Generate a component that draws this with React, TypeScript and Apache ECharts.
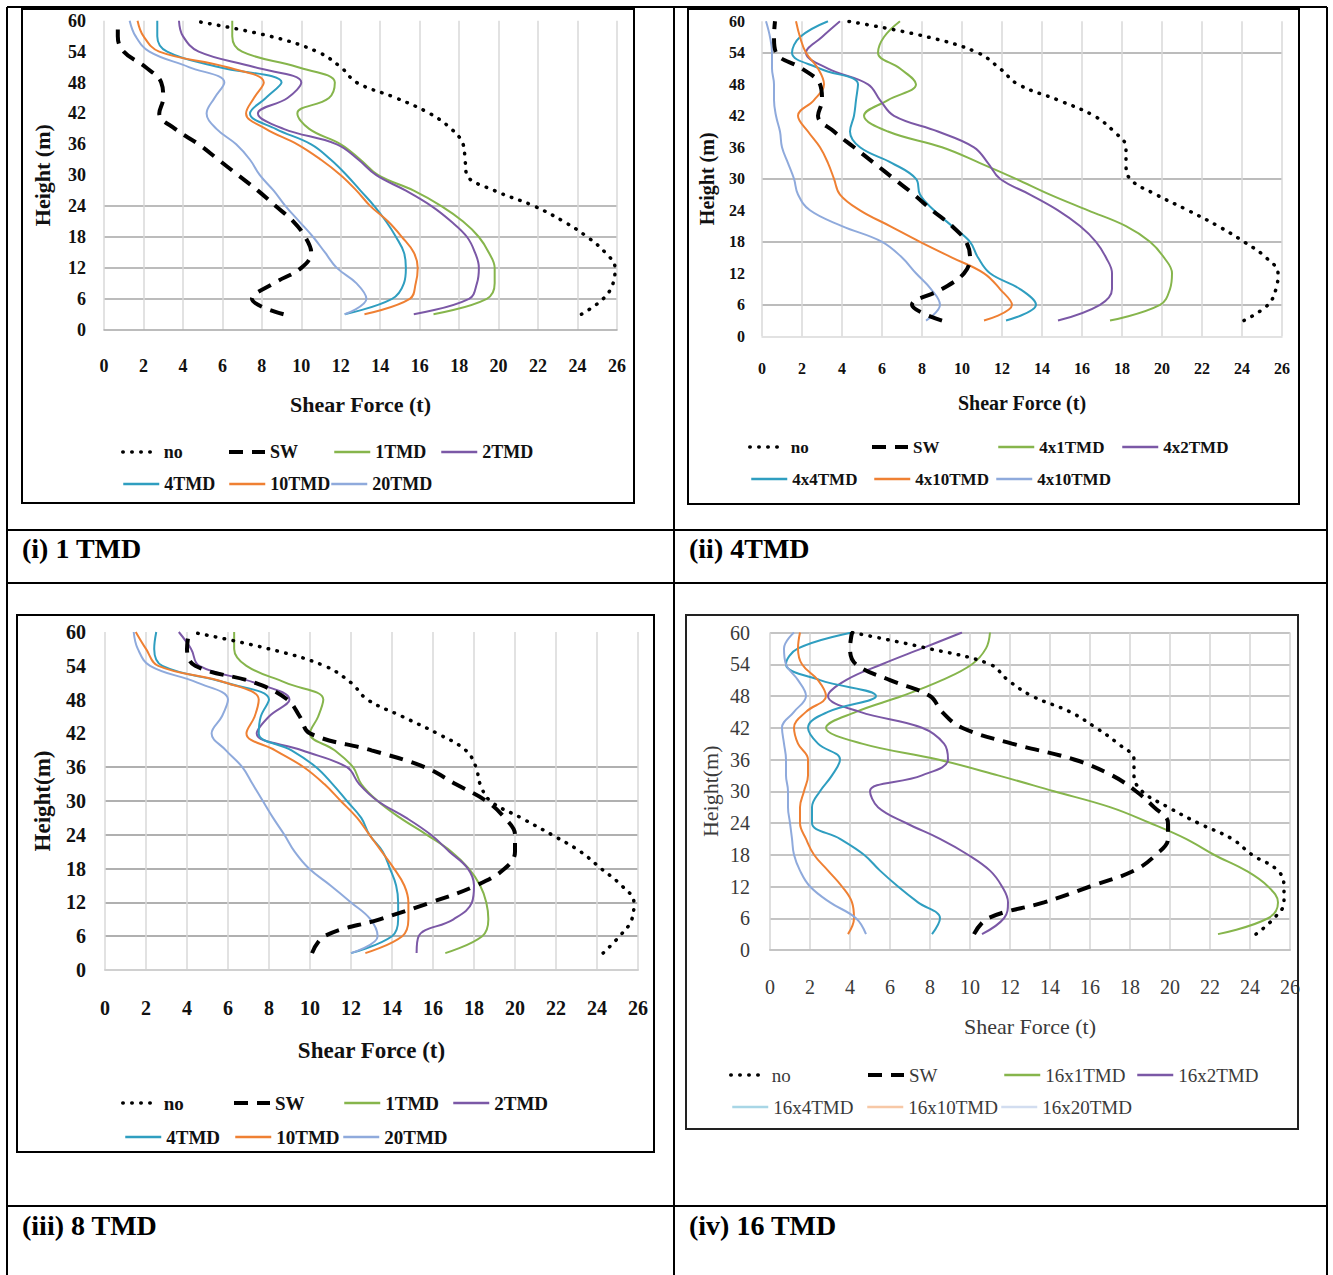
import React, { useEffect, useRef } from "react";
import * as echarts from "echarts";

// Heights (m) at which every curve is sampled, bottom to top
const heights = [3, 6, 9, 12, 15, 18, 21, 24, 27, 30, 33, 36, 39, 42, 45, 48, 51, 54, 57, 60];

// Axis ranges / ticks
const X_MIN = 0, X_MAX = 26, X_STEP = 2;
const Y_MIN = 0, Y_MAX = 60, Y_STEP = 6;

// ---- Panel (i) 1 TMD : shear force (t) at each height ----
const p1Names = ["no", "SW", "1TMD", "2TMD", "4TMD", "10TMD", "20TMD"];
const p1No = [24.2, 25.3, 25.8, 25.9, 25.4, 24.5, 23.3, 21.8, 19.8, 18.4, 18.3, 18.2, 17.6, 16.5, 14.8, 12.8, 12.0, 10.8, 8.4, 4.5];
const p1SW = [9.1, 7.5, 8.6, 10.0, 10.5, 10.2, 9.6, 8.7, 7.8, 6.8, 5.8, 4.8, 3.6, 2.8, 3.0, 2.9, 2.1, 1.0, 0.7, 0.7];
const p1T1 = [16.7, 19.4, 19.8, 19.8, 19.5, 19.0, 18.2, 17.1, 15.7, 13.9, 13.0, 12.0, 10.4, 9.8, 11.4, 11.7, 9.8, 7.0, 6.5, 6.5];
const p1T2 = [15.7, 18.5, 18.9, 19.0, 18.8, 18.4, 17.6, 16.6, 15.3, 13.8, 12.9, 11.8, 9.1, 7.8, 9.3, 10.0, 7.6, 4.8, 4.0, 3.8];
const p1T4 = [12.2, 14.6, 15.2, 15.3, 15.2, 14.8, 14.3, 13.7, 13.0, 12.3, 11.5, 10.5, 8.7, 7.4, 8.2, 9.0, 5.8, 3.2, 2.7, 2.7];
const p1T10 = [13.2, 15.5, 15.8, 15.9, 15.7, 15.1, 14.4, 13.5, 12.8, 12.0, 11.0, 9.8, 8.2, 7.2, 7.6, 8.1, 6.2, 2.8, 2.0, 1.7];
const p1T20 = [12.2, 13.3, 12.8, 11.8, 11.2, 10.6, 9.9, 9.2, 8.6, 7.9, 7.4, 6.7, 5.7, 5.2, 5.6, 6.1, 4.3, 2.3, 1.6, 1.3];

// ---- Panel (ii) 4TMD ----
const p2Names = ["no", "SW", "4x1TMD", "4x2TMD", "4x4TMD", "4x10TMD", "4x10TMD"];
const p2No = [24.1, 25.3, 25.7, 25.8, 25.2, 24.1, 22.8, 21.3, 19.7, 18.4, 18.2, 18.2, 17.6, 16.6, 14.8, 12.8, 11.9, 10.8, 8.3, 4.3];
const p2SW = [9.0, 7.5, 9.0, 10.1, 10.4, 10.2, 9.5, 8.5, 7.6, 6.6, 5.6, 4.6, 3.6, 2.8, 3.0, 2.9, 2.0, 0.7, 0.6, 0.65];
const p2A = [17.4, 19.9, 20.4, 20.5, 20.1, 19.4, 18.2, 16.3, 14.4, 12.7, 10.9, 9.0, 6.3, 5.1, 6.3, 7.7, 6.9, 5.8, 6.1, 6.9];
const p2B = [14.8, 16.9, 17.5, 17.5, 17.2, 16.7, 15.9, 14.8, 13.4, 11.9, 11.3, 10.6, 8.8, 6.6, 5.9, 5.3, 3.3, 2.2, 3.0, 3.9];
const p2C = [12.2, 13.7, 12.9, 11.4, 10.8, 10.4, 9.5, 8.6, 7.9, 7.7, 6.5, 4.9, 4.4, 4.6, 4.7, 4.8, 2.9, 1.5, 1.9, 3.3];
const p2D = [11.1, 12.5, 11.9, 11.1, 9.5, 7.9, 6.4, 4.9, 3.9, 3.6, 3.3, 2.9, 2.3, 1.8, 2.6, 3.1, 2.8, 2.2, 1.9, 1.7];
const p2E = [8.2, 8.9, 8.45, 7.7, 7.0, 6.0, 4.0, 2.4, 1.8, 1.6, 1.3, 1.0, 0.9, 0.7, 0.6, 0.6, 0.5, 0.5, 0.4, 0.2];

// ---- Panel (iii) 8 TMD ----
const p3Names = ["no", "SW", "1TMD", "2TMD", "4TMD", "10TMD", "20TMD"];
const p3No = [24.3, 25.1, 25.7, 25.8, 25.2, 24.2, 23.2, 21.8, 20.3, 18.8, 18.3, 18.1, 17.6, 16.2, 14.5, 12.8, 12.0, 10.7, 8.0, 4.2];
const p3SW = [10.1, 10.7, 13.4, 15.9, 18.1, 19.5, 20.0, 20.0, 19.5, 18.6, 17.1, 15.6, 13.0, 10.0, 9.5, 8.9, 7.3, 4.4, 4.0, 4.1];
const p3A = [16.6, 18.4, 18.7, 18.6, 18.3, 17.75, 16.9, 15.7, 14.4, 13.3, 12.5, 12.1, 11.2, 10.0, 10.4, 10.65, 8.8, 6.9, 6.3, 6.3];
const p3B = [15.2, 15.3, 17.0, 17.9, 18.0, 17.7, 16.8, 15.9, 14.7, 13.3, 12.4, 11.8, 9.6, 7.4, 8.0, 9.0, 7.3, 4.6, 4.2, 3.6];
const p3C = [12.0, 14.0, 14.3, 14.3, 14.2, 13.9, 13.55, 12.9, 12.5, 11.8, 11.1, 10.3, 9.1, 7.5, 7.6, 8.0, 5.9, 2.8, 2.4, 2.5];
const p3D = [12.7, 14.5, 14.8, 14.8, 14.6, 14.1, 13.5, 12.9, 12.3, 11.5, 10.7, 9.7, 8.3, 6.9, 7.3, 7.5, 5.9, 2.6, 2.0, 1.5];
const p3E = [12.0, 13.3, 12.95, 12.0, 11.0, 9.95, 9.25, 8.75, 8.2, 7.7, 7.2, 6.7, 5.9, 5.2, 5.7, 6.0, 4.5, 2.2, 1.6, 1.4];

// ---- Panel (iv) 16 TMD ----
const p4Names = ["no", "SW", "16x1TMD", "16x2TMD", "16x4TMD", "16x10TMD", "16x20TMD"];
const p4No = [24.3, 25.2, 25.7, 25.7, 25.4, 24.1, 23.1, 21.4, 19.9, 18.6, 18.2, 18.2, 17.4, 16.3, 15.0, 13.1, 11.9, 11.0, 7.9, 4.1];
const p4SW = [10.2, 10.9, 13.7, 16.0, 18.2, 19.3, 19.9, 19.9, 19.2, 18.3, 17.1, 15.2, 12.1, 9.6, 8.6, 8.0, 6.0, 4.3, 4.0, 4.1];
const p4A = [22.4, 24.9, 25.4, 24.9, 23.8, 22.2, 20.8, 19.0, 17.0, 14.2, 11.4, 8.4, 4.6, 2.8, 4.3, 6.6, 8.6, 10.1, 10.8, 11.0];
const p4B = [10.6, 11.7, 11.9, 11.6, 11.0, 9.9, 8.5, 6.8, 5.4, 5.0, 7.6, 8.9, 8.7, 7.6, 4.5, 2.9, 3.8, 5.6, 7.6, 9.6];
const p4C = [8.1, 8.5, 7.4, 6.4, 5.5, 4.7, 3.5, 2.1, 2.1, 2.5, 3.1, 3.5, 2.4, 1.9, 2.9, 5.3, 2.5, 0.8, 1.4, 4.1];
const p4D = [3.9, 4.2, 4.1, 3.6, 2.9, 2.2, 1.8, 1.5, 1.5, 1.7, 1.9, 1.9, 1.4, 1.2, 1.8, 2.8, 2.4, 1.6, 1.4, 1.5];
const p4E = [4.8, 4.3, 3.0, 2.0, 1.5, 1.2, 1.1, 1.0, 0.9, 0.9, 0.8, 0.8, 0.7, 0.6, 1.2, 1.8, 1.4, 0.8, 0.7, 1.2];

const captions = ["(i) 1 TMD", "(ii) 4TMD", "(iii) 8 TMD", "(iv) 16 TMD"];

const SERIF = '"Liberation Serif", "Times New Roman", serif';
const BLACK = "#000000";
const GREEN = "#86B54C";
const PURPLE = "#7B58A6";
const TEAL = "#2F9EC0";
const ORANGE = "#EF8033";
const LIGHTBLUE = "#8FAADC";
const seriesColors = [BLACK, BLACK, GREEN, PURPLE, TEAL, ORANGE, LIGHTBLUE];

interface PanelDef {
  names: string[];
  values: number[][];
  legendColors: string[];
  yName: string;
  grid: { left: number; top: number; width: number; height: number };
  bold: boolean;
  textColor: string;
  tickSize: number;
  nameSize: number;
  legendSize: number;
  xLabelMargin: number;
  yLabelMargin: number;
  xNameGap: number;
  yNameGap: number;
  hLines: number[];
  hColor: string;
  hWidth: number;
  vColor: string;
  vWidth: number;
  axisColor: string;
  legendPos: number[][];
}

const panels: PanelDef[] = [
  {
    names: p1Names,
    values: [p1No, p1SW, p1T1, p1T2, p1T4, p1T10, p1T20],
    legendColors: seriesColors,
    yName: "Height (m)",
    grid: { left: 104, top: 20.7, width: 513, height: 309 },
    bold: true, textColor: "#111",
    tickSize: 18, nameSize: 22, legendSize: 18,
    xLabelMargin: 27, yLabelMargin: 18, xNameGap: 64, yNameGap: 51,
    hLines: [6, 12, 18, 24], hColor: "#a6a6a6", hWidth: 1.5,
    vColor: "#d9d9d9", vWidth: 1.5, axisColor: "#a6a6a6",
    legendPos: [[121, 452], [227, 452], [333, 452], [440, 452], [122, 484], [228, 484], [330, 484]],
  },
  {
    names: p2Names,
    values: [p2No, p2SW, p2A, p2B, p2C, p2D, p2E],
    legendColors: seriesColors,
    yName: "Height (m)",
    grid: { left: 762, top: 21.3, width: 520, height: 315 },
    bold: true, textColor: "#111",
    tickSize: 16, nameSize: 20, legendSize: 17,
    xLabelMargin: 24, yLabelMargin: 17, xNameGap: 57, yNameGap: 45,
    hLines: [6, 18, 30, 54], hColor: "#a6a6a6", hWidth: 1.5,
    vColor: "#d9d9d9", vWidth: 1.5, axisColor: "#d9d9d9",
    legendPos: [[748, 447], [870, 447], [997, 447], [1121, 447], [750, 479], [873, 479], [995, 479]],
  },
  {
    names: p3Names,
    values: [p3No, p3SW, p3A, p3B, p3C, p3D, p3E],
    legendColors: seriesColors,
    yName: "Height(m)",
    grid: { left: 105, top: 632, width: 533, height: 338 },
    bold: true, textColor: "#111",
    tickSize: 20, nameSize: 23, legendSize: 19,
    xLabelMargin: 28, yLabelMargin: 19, xNameGap: 69, yNameGap: 51,
    hLines: [6, 12, 18, 24, 30, 36], hColor: "#b0b0b0", hWidth: 2,
    vColor: "#d9d9d9", vWidth: 1.5, axisColor: "#d0d0d0",
    legendPos: [[121, 1103], [232, 1103], [343, 1103], [452, 1103], [124, 1137], [234, 1137], [342, 1137]],
  },
  {
    names: p4Names,
    values: [p4No, p4SW, p4A, p4B, p4C, p4D, p4E],
    legendColors: [BLACK, BLACK, GREEN, PURPLE, "#A8D6E6", "#F7C8A6", "#D2DDF0"],
    yName: "Height(m)",
    grid: { left: 770, top: 632.5, width: 520, height: 317.5 },
    bold: false, textColor: "#3a3a3a",
    tickSize: 20, nameSize: 22, legendSize: 19,
    xLabelMargin: 27, yLabelMargin: 20, xNameGap: 65, yNameGap: 49,
    hLines: [0, 6, 12, 18, 24, 30, 36, 42, 48, 54, 60], hColor: "#c4c4c4", hWidth: 2,
    vColor: "#d4d4d4", vWidth: 1.5, axisColor: "#c4c4c4",
    legendPos: [[729, 1075], [866, 1075], [1003, 1075], [1136, 1075], [731, 1107], [866, 1107], [1000, 1107]],
  },
];

const DOT_STYLE = { color: BLACK, width: 3.5, type: [0.5, 8.5], cap: "round" };
const DASH_STYLE = { color: BLACK, width: 4, type: [14, 9], cap: "butt" };

function styleFor(k: number, color: string) {
  if (k === 0) return { ...DOT_STYLE };
  if (k === 1) return { ...DASH_STYLE };
  return { color, width: 2 };
}

function buildOption() {
  const grids: any[] = [];
  const xAxes: any[] = [];
  const yAxes: any[] = [];
  const series: any[] = [];
  const legends: any[] = [];
  const yTickCount = Math.round((Y_MAX - Y_MIN) / Y_STEP) + 1;

  panels.forEach((p, i) => {
    const font = {
      fontFamily: SERIF,
      fontWeight: p.bold ? "bold" : "normal",
      color: p.textColor,
    };
    grids.push({ ...p.grid, containLabel: false });
    xAxes.push({
      gridIndex: i,
      type: "value",
      min: X_MIN,
      max: X_MAX,
      interval: X_STEP,
      axisLine: { show: true, lineStyle: { color: p.axisColor, width: p.hWidth } },
      axisTick: { show: false },
      axisLabel: { ...font, fontSize: p.tickSize, margin: p.xLabelMargin },
      splitLine: { show: true, lineStyle: { color: p.vColor, width: p.vWidth } },
      name: "Shear Force (t)",
      nameLocation: "middle",
      nameGap: p.xNameGap,
      nameTextStyle: { ...font, fontSize: p.nameSize },
    });
    const hColors: string[] = [];
    for (let t = 0; t < yTickCount; t++) {
      const v = Y_MIN + t * Y_STEP;
      hColors.push(p.hLines.indexOf(v) >= 0 ? p.hColor : "rgba(0,0,0,0)");
    }
    yAxes.push({
      gridIndex: i,
      type: "value",
      min: Y_MIN,
      max: Y_MAX,
      interval: Y_STEP,
      axisLine: { show: false },
      axisTick: { show: false },
      axisLabel: { ...font, fontSize: p.tickSize, margin: p.yLabelMargin },
      splitLine: { show: true, lineStyle: { color: hColors, width: p.hWidth } },
      name: p.yName,
      nameLocation: "middle",
      nameGap: p.yNameGap,
      nameTextStyle: { ...font, fontSize: p.nameSize },
    });

    p.names.forEach((name, k) => {
      const xs = p.values[k];
      series.push({
        type: "line",
        name,
        xAxisIndex: i,
        yAxisIndex: i,
        data: heights.map((h, j) => [xs[j], h]),
        smooth: 0.4,
        symbol: "none",
        silent: true,
        lineStyle: styleFor(k, seriesColors[k]),
        itemStyle: { color: seriesColors[k] },
        z: k < 2 ? 3 : 2,
      });
      const lc = p.legendColors[k];
      const ls: any = styleFor(k, lc);
      if (k >= 2) ls.width = 2.5;
      legends.push({
        data: [
          {
            name,
            lineStyle: ls,
            itemStyle: { color: "rgba(0,0,0,0)", borderWidth: 0, borderColor: "rgba(0,0,0,0)", opacity: 0 },
          },
        ],
        left: p.legendPos[k][0],
        top: p.legendPos[k][1] - p.legendSize / 2,
        padding: 0,
        itemWidth: 36,
        itemHeight: 12,
        itemGap: 0,
        selectedMode: false,
        textStyle: { ...font, fontSize: p.legendSize },
      });
    });
  });

  const tableLines = [
    [7, 7, 1327, 7],
    [7, 530, 1327, 530],
    [7, 583, 1327, 583],
    [7, 1206, 1327, 1206],
    [7, 7, 7, 1275],
    [674, 7, 674, 1275],
    [1327, 7, 1327, 1275],
  ];
  const boxes = [
    [22, 9, 612, 494, "#000"],
    [688, 9, 611, 495, "#000"],
    [17, 615, 637, 537, "#000"],
    [686, 615, 612, 514, "#222"],
  ];
  const captionPos = [
    [22, 548],
    [689, 548],
    [22, 1225],
    [689, 1225],
  ];

  const graphic: any[] = [];
  tableLines.forEach((l) =>
    graphic.push({
      type: "line",
      silent: true,
      z: 100,
      shape: { x1: l[0], y1: l[1], x2: l[2], y2: l[3] },
      style: { stroke: "#000", lineWidth: 2 },
    })
  );
  boxes.forEach((b) =>
    graphic.push({
      type: "rect",
      silent: true,
      z: 100,
      shape: { x: b[0], y: b[1], width: b[2], height: b[3] },
      style: { fill: "rgba(0,0,0,0)", stroke: b[4], lineWidth: 2 },
    })
  );
  captions.forEach((c, i) =>
    graphic.push({
      type: "text",
      silent: true,
      z: 100,
      x: captionPos[i][0],
      y: captionPos[i][1],
      style: {
        text: c,
        fontFamily: SERIF,
        fontWeight: "bold",
        fontSize: 28,
        fill: "#000",
        align: "left",
        verticalAlign: "middle",
      },
    })
  );

  return {
    animation: false,
    backgroundColor: "#ffffff",
    grid: grids,
    xAxis: xAxes,
    yAxis: yAxes,
    series,
    legend: legends,
    graphic,
  };
}

export default function App() {
  const ref = useRef<HTMLDivElement>(null);
  useEffect(() => {
    if (!ref.current) return;
    const chart = echarts.init(ref.current, undefined, { renderer: "svg" });
    chart.setOption(buildOption() as any);
    return () => chart.dispose();
  }, []);
  return (
    <div
      ref={ref}
      style={{ position: "absolute", left: 0, top: 0, width: 1333, height: 1275, background: "#fff" }}
    />
  );
}
